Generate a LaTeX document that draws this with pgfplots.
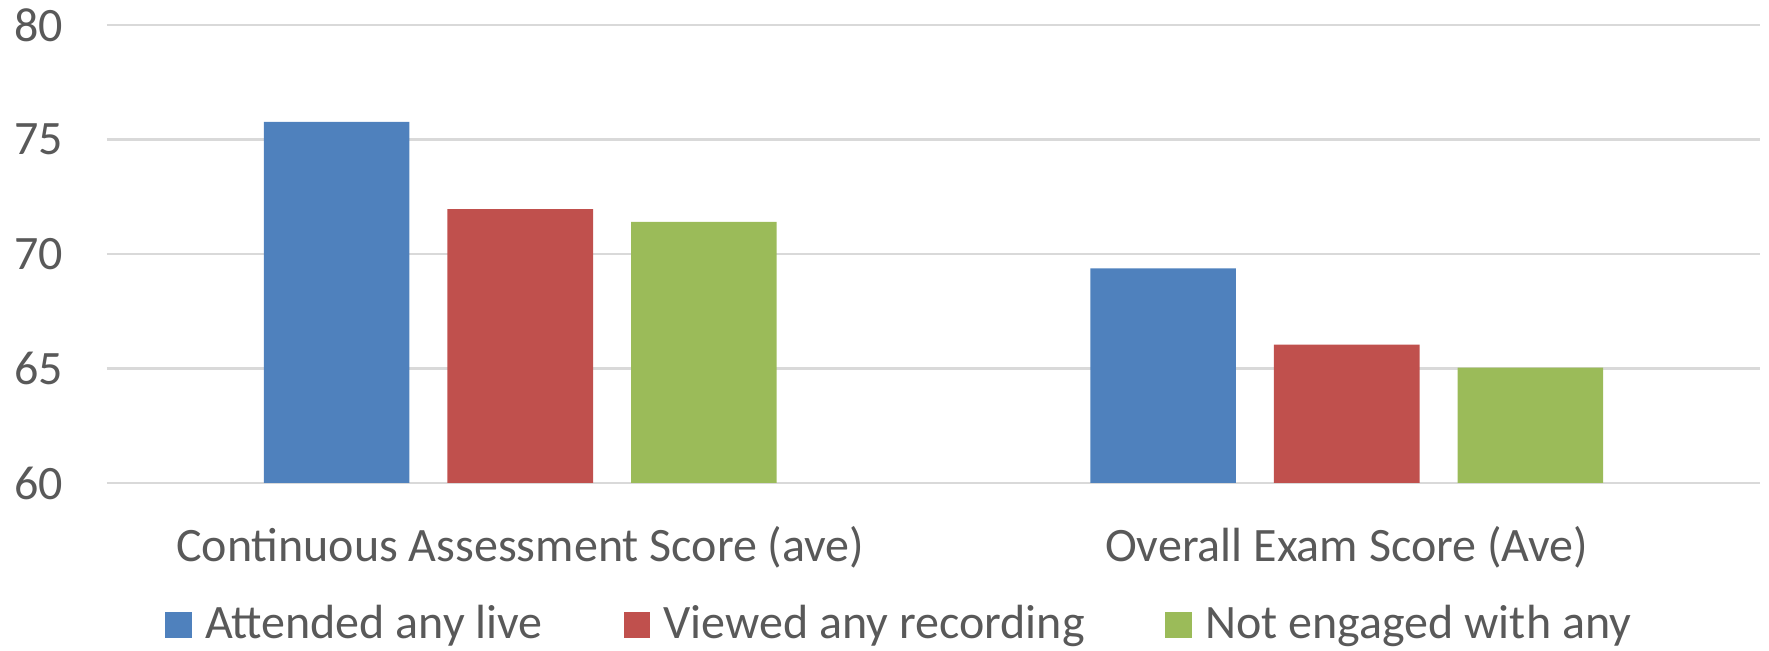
\documentclass[border=0pt]{standalone}
\usepackage{fontspec}
\setmainfont{Carlito}
\usepackage{pgfplots}
\pgfplotsset{compat=1.18}

\definecolor{barblue}{HTML}{4F81BD}
\definecolor{barred}{HTML}{C0504D}
\definecolor{bargreen}{HTML}{9BBB59}
\definecolor{textgray}{HTML}{595959}
\definecolor{gridgray}{HTML}{D9D9D9}

\begin{document}
\begin{tikzpicture}
\begin{axis}[
  scale only axis,
  width=413.25pt, height=114.5pt,
  ybar, bar width=36.4pt, ybar=9.5pt,
  xmin=-0.5, xmax=1.5, ymin=60, ymax=80,
  ytick={60,65,70,75,80},
  xtick={0,1},
  xticklabels={Continuous Assessment Score (ave), Overall Exam Score (Ave)},
  axis line style={draw=none},
  major tick length=0pt,
  ymajorgrids,
  grid style={gridgray, line width=0.55pt},
  font=\fontsize{12}{14.4}\selectfont,
  ticklabel style={text=textgray},
  /pgf/number format/assume math mode=true,
  yticklabel style={xshift=-7.5pt},
  xticklabel style={yshift=-7.3pt},
  legend columns=3,
  legend style={
    draw=none, fill=none,
    at={(0.481,-0.31)}, anchor=center,
    text=textgray,
    font=\fontsize{12}{14.4}\selectfont,
    /tikz/every odd column/.append style={column sep=1.3pt},
    /tikz/every even column/.append style={column sep=18.2pt},
  },
  legend image code/.code={\fill[#1] (0pt,-3.35pt) rectangle (6.7pt,3.35pt);},
]
\addplot[fill=barblue, draw=none] coordinates {(0,75.77) (1,69.37)};
\addplot[fill=barred, draw=none] coordinates {(0,71.96) (1,66.04)};
\addplot[fill=bargreen, draw=none] coordinates {(0,71.40) (1,65.04)};
\legend{Attended any live, Viewed any recording, Not engaged with any}
\end{axis}
\pgfresetboundingbox
\path[use as bounding box]
  ([shift={(-26.75pt,-42pt)}]current axis.south west)
  rectangle ([shift={(2.25pt,6.25pt)}]current axis.north east);
\end{tikzpicture}
\end{document}
